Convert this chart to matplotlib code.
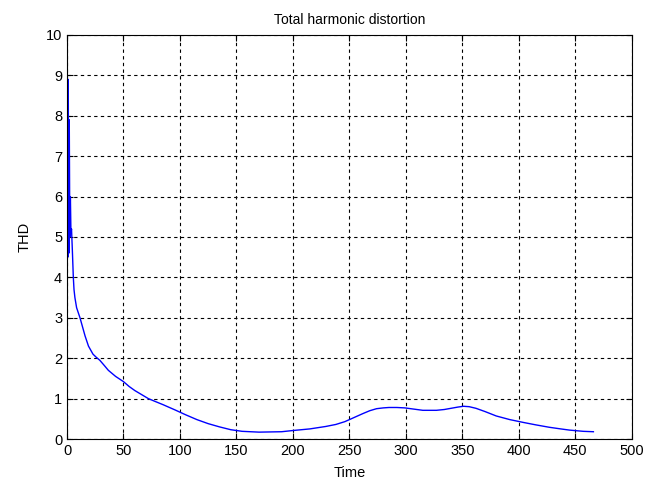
import numpy as np
import matplotlib
matplotlib.use("Agg")
import matplotlib.pyplot as plt

# THD over time
time = [0, 0.2, 0.7, 1.1, 1.6, 2.0, 2.5, 3.0, 3.5, 4.0, 4.7, 5.6, 6.2, 7.0, 8.5,
        11.5, 14, 16, 19, 23, 26, 29, 33, 36.6, 43, 50, 55, 60, 66, 72, 78, 85,
        95.6, 105, 115, 125, 135, 145, 155, 170, 190, 200, 215, 229, 238, 246,
        254, 262, 268, 274, 280, 285, 292, 299, 307, 315, 327, 334, 340, 346,
        351, 356, 362, 370, 380, 392, 404, 415, 427, 437, 445, 457, 466]
thd = [0, 9.1, 4.5, 8.9, 4.6, 7.9, 5.0, 6.0, 5.1, 5.2, 4.7, 4.0, 3.7, 3.5, 3.25,
       3.0, 2.75, 2.55, 2.3, 2.1, 2.02, 1.95, 1.82, 1.7, 1.55, 1.42, 1.3, 1.2,
       1.1, 1.0, 0.93, 0.85, 0.72, 0.6, 0.48, 0.38, 0.3, 0.23, 0.19, 0.17,
       0.18, 0.21, 0.25, 0.31, 0.36, 0.43, 0.53, 0.63, 0.7, 0.75, 0.77, 0.78,
       0.78, 0.77, 0.74, 0.71, 0.71, 0.73, 0.76, 0.79, 0.81, 0.8, 0.76, 0.68,
       0.57, 0.48, 0.41, 0.35, 0.29, 0.25, 0.22, 0.19, 0.18]

plt.rcParams['font.family'] = ['Liberation Sans', 'DejaVu Sans']

fig = plt.figure(figsize=(6.7, 4.79), dpi=100)
ax = fig.add_axes([0.1, 0.0835, 0.843, 0.8435])
ax.plot(time, thd, color='#0000ff', linewidth=1)

ax.set_xlim(0, 500)
ax.set_ylim(0, 10)
ax.set_xticks(np.arange(0, 501, 50))
ax.set_yticks(np.arange(0, 11, 1))
ax.grid(True, color='black', linestyle=(0, (3, 3)), linewidth=0.8)
ax.tick_params(direction='in', top=True, right=True, labelsize=10.5, length=4)
for s in ax.spines.values():
    s.set_linewidth(0.8)

ax.set_title('Total harmonic distortion', fontsize=10, pad=8)
ax.set_xlabel('Time', fontsize=10.5, labelpad=6)
ax.set_ylabel('THD', fontsize=10.5, labelpad=10)

fig.savefig('out.png', dpi=100)
